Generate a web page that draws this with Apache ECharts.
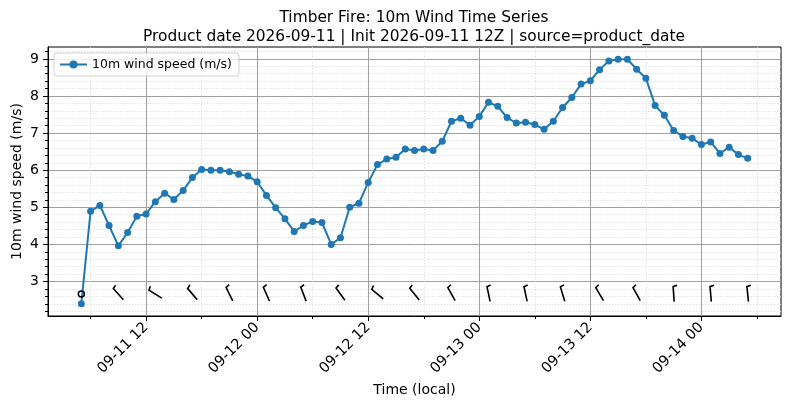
<!DOCTYPE html>
<html>
<head>
<meta charset="utf-8">
<script src="https://cdn.jsdelivr.net/npm/echarts@6/dist/echarts.min.js"></script>
<style>
  html, body { margin: 0; padding: 0; background: #fff; }
  #chart { width: 790px; height: 409px; }
</style>
</head>
<body>
<div id="chart"></div>
<script>
// hourly 10m wind, starting 2026-09-11 05:00 local
const HOUR = 3600 * 1000;
const startTime = new Date(2026, 8, 11, 5, 0, 0).getTime();

const windSpeed = [
  2.40, 4.89, 5.05, 4.51, 3.96, 4.32, 4.76, 4.82, 5.15, 5.38,
  5.21, 5.45, 5.80, 6.02, 6.00, 6.00, 5.96, 5.89, 5.84, 5.69,
  5.32, 4.99, 4.69, 4.35, 4.51, 4.62, 4.59, 4.00, 4.18, 5.00,
  5.11, 5.67, 6.15, 6.30, 6.35, 6.57, 6.53, 6.57, 6.53, 6.78,
  7.32, 7.40, 7.21, 7.45, 7.83, 7.72, 7.42, 7.27, 7.29, 7.23,
  7.10, 7.32, 7.69, 7.96, 8.32, 8.41, 8.71, 8.94, 8.99, 8.99,
  8.72, 8.48, 7.74, 7.48, 7.07, 6.91, 6.86, 6.69, 6.76, 6.45,
  6.62, 6.42, 6.32
];

// wind barbs every 4 h, direction the wind comes from (deg), null = calm
const barbStepHours = 4;
const barbLevel = 2.66;
const barbDir = [
  null, 318, 302, 320, 334, 336, 339, 324, 310, 321,
  331, 348, 348, 343, 329, 331, 356, 355, 354
];

// axis ticks
const xMajorTicks = [
  new Date(2026, 8, 11, 12).getTime(), new Date(2026, 8, 12, 0).getTime(),
  new Date(2026, 8, 12, 12).getTime(), new Date(2026, 8, 13, 0).getTime(),
  new Date(2026, 8, 13, 12).getTime(), new Date(2026, 8, 14, 0).getTime()
];
const xMinorTicks = [
  new Date(2026, 8, 11, 6).getTime(), new Date(2026, 8, 11, 18).getTime(),
  new Date(2026, 8, 12, 6).getTime(), new Date(2026, 8, 12, 18).getTime(),
  new Date(2026, 8, 13, 6).getTime(), new Date(2026, 8, 13, 18).getTime(),
  new Date(2026, 8, 14, 6).getTime()
];
const yMajorTicks = [3, 4, 5, 6, 7, 8, 9];
const yMinorTicks = [];
for (let v = 2.2; v < 9.3; v += 0.2) {
  const r = Math.round(v * 10) / 10;
  if (Math.abs(r - Math.round(r)) > 0.01) yMinorTicks.push(r);
}

const FONT = 'DejaVu Sans';
const pad = n => (n < 10 ? '0' : '') + n;
const fmtTick = v => {
  const d = new Date(v);
  return pad(d.getMonth() + 1) + '-' + pad(d.getDate()) + ' ' + pad(d.getHours());
};

const lineData = windSpeed.map((s, i) => [startTime + i * HOUR, s]);
const barbData = barbDir.map((d, i) => [startTime + i * barbStepHours * HOUR, barbLevel]);
const xMin = startTime - 3.6 * HOUR;
const xMax = startTime + (windSpeed.length - 1 + 3.6) * HOUR;

const chart = echarts.init(document.getElementById('chart'), null, { renderer: 'canvas' });
chart.setOption({
  animation: false,
  backgroundColor: '#fff',
  textStyle: { fontFamily: FONT },
  title: {
    text: 'Timber Fire: 10m Wind Time Series\nProduct date 2026-09-11 | Init 2026-09-11 12Z | source=product_date',
    left: 409,
    top: 4,
    textAlign: 'center',
    textStyle: { fontFamily: FONT, fontSize: 15.4, fontWeight: 'normal', color: '#000', lineHeight: 18.5 }
  },
  legend: {
    data: ['10m wind speed (m/s)'],
    left: 54,
    top: 53,
    orient: 'vertical',
    padding: [5, 7, 5, 5],
    itemWidth: 27,
    itemHeight: 10,
    borderColor: '#d0d0d0',
    borderWidth: 1,
    borderRadius: 3,
    backgroundColor: 'rgba(255,255,255,0.8)',
    textStyle: { fontFamily: FONT, fontSize: 12.5, color: '#000' }
  },
  grid: {
    left: 48, right: 9, top: 47, bottom: 93,
    outerBoundsMode: 'none',
    show: true, borderColor: '#000', borderWidth: 1, backgroundColor: 'transparent'
  },
  xAxis: [
    {
      type: 'value', min: xMin, max: xMax, position: 'bottom',
      name: 'Time (local)', nameLocation: 'middle', nameGap: 67, nameMoveOverlap: false,
      nameTextStyle: { fontFamily: FONT, fontSize: 14, color: '#000' },
      axisLine: { show: true, onZero: false, lineStyle: { color: '#000', width: 1 } },
      axisTick: { show: true, customValues: xMajorTicks, length: 5, lineStyle: { color: '#000' } },
      axisLabel: {
        customValues: xMajorTicks, formatter: fmtTick, rotate: 45, margin: 9,
        fontFamily: FONT, fontSize: 14.5, color: '#000'
      },
      splitLine: { show: true, lineStyle: { color: '#a0a0a0', width: 1 } }
    },
    {
      type: 'value', min: xMin, max: xMax, position: 'bottom',
      axisLine: { show: false, onZero: false },
      axisTick: { show: true, customValues: xMinorTicks, length: 3, lineStyle: { color: '#000' } },
      axisLabel: { show: false },
      splitLine: { show: true, lineStyle: { color: '#dcdcdc', width: 0.8, type: [1.5, 1.5] } }
    }
  ],
  yAxis: [
    {
      type: 'value', min: 2.07, max: 9.32, position: 'left',
      name: '10m wind speed (m/s)', nameLocation: 'middle', nameGap: 24, nameMoveOverlap: false,
      nameTextStyle: { fontFamily: FONT, fontSize: 14, color: '#000' },
      axisLine: { show: true, onZero: false, lineStyle: { color: '#000', width: 1 } },
      axisTick: { show: true, customValues: yMajorTicks, length: 5, lineStyle: { color: '#000' } },
      axisLabel: { customValues: yMajorTicks, margin: 9, fontFamily: FONT, fontSize: 14, color: '#000' },
      splitLine: { show: true, lineStyle: { color: '#a0a0a0', width: 1 } }
    },
    {
      type: 'value', min: 2.07, max: 9.32, position: 'left',
      axisLine: { show: false, onZero: false },
      axisTick: { show: true, customValues: yMinorTicks, length: 3, lineStyle: { color: '#000' } },
      axisLabel: { show: false },
      splitLine: { show: true, lineStyle: { color: '#dcdcdc', width: 0.8, type: [1.5, 1.5] } }
    }
  ],
  series: [
    {
      name: '10m wind speed (m/s)',
      type: 'line',
      xAxisIndex: 0, yAxisIndex: 0,
      data: lineData,
      symbol: 'circle',
      symbolSize: 7,
      showSymbol: true,
      lineStyle: { color: '#1f77b4', width: 2 },
      itemStyle: { color: '#1f77b4' },
      z: 3
    },
    {
      name: 'barbs',
      type: 'custom',
      xAxisIndex: 0, yAxisIndex: 0,
      data: barbData,
      clip: false,
      z: 4,
      renderItem: function (params, api) {
        const c = api.coord([api.value(0), api.value(1)]);
        const dir = barbDir[params.dataIndex];
        if (dir === null) {
          return {
            type: 'circle',
            shape: { cx: c[0], cy: c[1], r: 3 },
            style: { fill: 'none', stroke: '#000', lineWidth: 1.5 }
          };
        }
        // staff points toward where the wind comes from, pivot in the middle
        const rad = dir * Math.PI / 180;
        const ux = Math.sin(rad), uy = -Math.cos(rad);
        const half = 7.5;
        const x0 = c[0] - ux * half, y0 = c[1] - uy * half;
        const x1 = c[0] + ux * half, y1 = c[1] + uy * half;
        const px = -uy, py = ux;
        const bx = x1 + px * 4 + ux * 1, by = y1 + py * 4 + uy * 1;
        return {
          type: 'polyline',
          shape: { points: [[x0, y0], [x1, y1], [bx, by]] },
          style: { fill: 'none', stroke: '#000', lineWidth: 1.6 }
        };
      }
    }
  ]
});
</script>
</body>
</html>
